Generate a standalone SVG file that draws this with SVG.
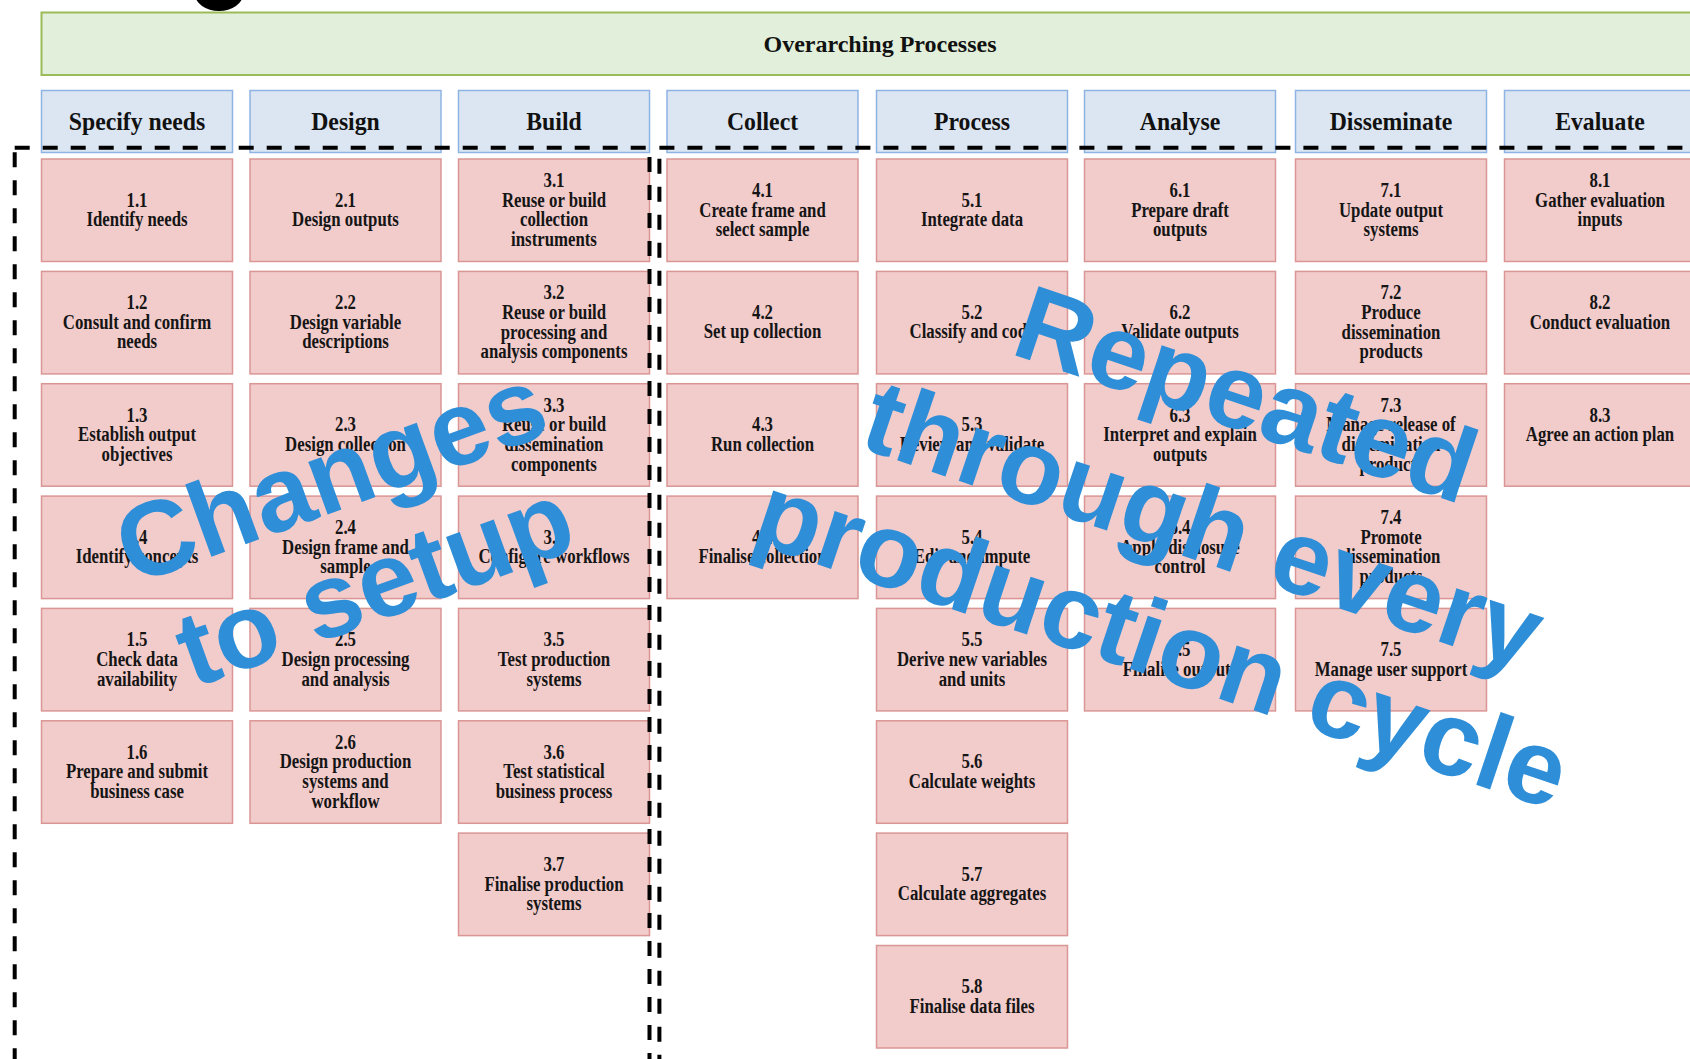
<svg xmlns="http://www.w3.org/2000/svg" width="1690" height="1059" viewBox="0 0 1690 1059">
<style>
  .bar{fill:#e2efda;stroke:#9bbb59;stroke-width:2}
  .hd{fill:#dce6f2;stroke:#8eb4e3;stroke-width:1.5}
  .bx{fill:#f2cbcb;stroke:#d99694;stroke-width:1.5}
  .bar-t{font-family:"Liberation Serif","Times New Roman",serif;font-weight:bold;font-size:24px;fill:#111;text-anchor:middle}
  .ht{font-family:"Liberation Serif","Times New Roman",serif;font-weight:bold;font-size:25px;fill:#111;text-anchor:middle}
  .bt{font-family:"Liberation Serif","Times New Roman",serif;font-weight:bold;font-size:20px;fill:#151515;text-anchor:middle}
  .zone{fill:none;stroke:#000;stroke-width:4;stroke-dasharray:15 13}
  .wm{font-family:"Liberation Sans",Arial,sans-serif;font-weight:bold;font-size:106px;fill:#2e8ed8;text-anchor:middle}
</style>
<rect width="1690" height="1059" fill="#fff"/>

<!-- remnant of a heading above the frame -->
<ellipse cx="219" cy="-6" rx="24" ry="17" fill="#000"/>

<!-- overarching band -->
<g id="overarching">
  <rect class="bar" x="41.5" y="12.5" width="1700" height="62.5"/>
  <text class="bar-t" x="880" y="51.5">Overarching Processes</text>
</g>

<!-- phase headers -->
<g id="h1"><rect class="hd" x="41.5" y="90.5" width="191" height="62"/><text class="ht" transform="matrix(0.95 0 0 1 137 0)" x="0" y="130">Specify needs</text></g>
<g id="h2"><rect class="hd" x="250" y="90.5" width="191" height="62"/><text class="ht" transform="matrix(0.95 0 0 1 345.5 0)" x="0" y="130">Design</text></g>
<g id="h3"><rect class="hd" x="458.5" y="90.5" width="191" height="62"/><text class="ht" transform="matrix(0.95 0 0 1 554 0)" x="0" y="130">Build</text></g>
<g id="h4"><rect class="hd" x="667" y="90.5" width="191" height="62"/><text class="ht" transform="matrix(0.95 0 0 1 762.5 0)" x="0" y="130">Collect</text></g>
<g id="h5"><rect class="hd" x="876.5" y="90.5" width="191" height="62"/><text class="ht" transform="matrix(0.95 0 0 1 972 0)" x="0" y="130">Process</text></g>
<g id="h6"><rect class="hd" x="1084.5" y="90.5" width="191" height="62"/><text class="ht" transform="matrix(0.95 0 0 1 1180 0)" x="0" y="130">Analyse</text></g>
<g id="h7"><rect class="hd" x="1295.5" y="90.5" width="191" height="62"/><text class="ht" transform="matrix(0.95 0 0 1 1391 0)" x="0" y="130">Disseminate</text></g>
<g id="h8"><rect class="hd" x="1504.5" y="90.5" width="191" height="62"/><text class="ht" transform="matrix(0.95 0 0 1 1600 0)" x="0" y="130">Evaluate</text></g>

<!-- 1 Specify needs -->
<g id="n1-1"><rect class="bx" x="41.5" y="159" width="191" height="102.5"/><text class="bt" transform="matrix(0.84 0 0 1 137 0)"><tspan x="0" y="206.8">1.1</tspan><tspan x="0" y="226.2">Identify needs</tspan></text></g>
<g id="n1-2"><rect class="bx" x="41.5" y="271.4" width="191" height="102.5"/><text class="bt" transform="matrix(0.84 0 0 1 137 0)"><tspan x="0" y="309.3">1.2</tspan><tspan x="0" y="328.9">Consult and confirm</tspan><tspan x="0" y="348.5">needs</tspan></text></g>
<g id="n1-3"><rect class="bx" x="41.5" y="383.7" width="191" height="102.5"/><text class="bt" transform="matrix(0.84 0 0 1 137 0)"><tspan x="0" y="421.7">1.3</tspan><tspan x="0" y="441.3">Establish output</tspan><tspan x="0" y="460.9">objectives</tspan></text></g>
<g id="n1-4"><rect class="bx" x="41.5" y="496.1" width="191" height="102.5"/><text class="bt" transform="matrix(0.84 0 0 1 137 0)"><tspan x="0" y="543.8">1.4</tspan><tspan x="0" y="563.2">Identify concepts</tspan></text></g>
<g id="n1-5"><rect class="bx" x="41.5" y="608.4" width="191" height="102.5"/><text class="bt" transform="matrix(0.84 0 0 1 137 0)"><tspan x="0" y="646.4">1.5</tspan><tspan x="0" y="666">Check data</tspan><tspan x="0" y="685.6">availability</tspan></text></g>
<g id="n1-6"><rect class="bx" x="41.5" y="720.8" width="191" height="102.5"/><text class="bt" transform="matrix(0.84 0 0 1 137 0)"><tspan x="0" y="758.7">1.6</tspan><tspan x="0" y="778.3">Prepare and submit</tspan><tspan x="0" y="797.9">business case</tspan></text></g>

<!-- 2 Design -->
<g id="n2-1"><rect class="bx" x="250" y="159" width="191" height="102.5"/><text class="bt" transform="matrix(0.84 0 0 1 345.5 0)"><tspan x="0" y="206.8">2.1</tspan><tspan x="0" y="226.2">Design outputs</tspan></text></g>
<g id="n2-2"><rect class="bx" x="250" y="271.4" width="191" height="102.5"/><text class="bt" transform="matrix(0.84 0 0 1 345.5 0)"><tspan x="0" y="309.3">2.2</tspan><tspan x="0" y="328.9">Design variable</tspan><tspan x="0" y="348.5">descriptions</tspan></text></g>
<g id="n2-3"><rect class="bx" x="250" y="383.7" width="191" height="102.5"/><text class="bt" transform="matrix(0.84 0 0 1 345.5 0)"><tspan x="0" y="431.5">2.3</tspan><tspan x="0" y="450.9">Design collection</tspan></text></g>
<g id="n2-4"><rect class="bx" x="250" y="496.1" width="191" height="102.5"/><text class="bt" transform="matrix(0.84 0 0 1 345.5 0)"><tspan x="0" y="534">2.4</tspan><tspan x="0" y="553.6">Design frame and</tspan><tspan x="0" y="573.2">sample</tspan></text></g>
<g id="n2-5"><rect class="bx" x="250" y="608.4" width="191" height="102.5"/><text class="bt" transform="matrix(0.84 0 0 1 345.5 0)"><tspan x="0" y="646.4">2.5</tspan><tspan x="0" y="666">Design processing</tspan><tspan x="0" y="685.6">and analysis</tspan></text></g>
<g id="n2-6"><rect class="bx" x="250" y="720.8" width="191" height="102.5"/><text class="bt" transform="matrix(0.84 0 0 1 345.5 0)"><tspan x="0" y="748.9">2.6</tspan><tspan x="0" y="768.5">Design production</tspan><tspan x="0" y="788.1">systems and</tspan><tspan x="0" y="807.7">workflow</tspan></text></g>

<!-- 3 Build -->
<g id="n3-1"><rect class="bx" x="458.5" y="159" width="191" height="102.5"/><text class="bt" transform="matrix(0.84 0 0 1 554 0)"><tspan x="0" y="187.2">3.1</tspan><tspan x="0" y="206.8">Reuse or build</tspan><tspan x="0" y="226.4">collection</tspan><tspan x="0" y="246">instruments</tspan></text></g>
<g id="n3-2"><rect class="bx" x="458.5" y="271.4" width="191" height="102.5"/><text class="bt" transform="matrix(0.84 0 0 1 554 0)"><tspan x="0" y="299.5">3.2</tspan><tspan x="0" y="319.1">Reuse or build</tspan><tspan x="0" y="338.7">processing and</tspan><tspan x="0" y="358.3">analysis components</tspan></text></g>
<g id="n3-3"><rect class="bx" x="458.5" y="383.7" width="191" height="102.5"/><text class="bt" transform="matrix(0.84 0 0 1 554 0)"><tspan x="0" y="411.9">3.3</tspan><tspan x="0" y="431.5">Reuse or build</tspan><tspan x="0" y="451.1">dissemination</tspan><tspan x="0" y="470.7">components</tspan></text></g>
<g id="n3-4"><rect class="bx" x="458.5" y="496.1" width="191" height="102.5"/><text class="bt" transform="matrix(0.84 0 0 1 554 0)"><tspan x="0" y="543.8">3.4</tspan><tspan x="0" y="563.2">Configure workflows</tspan></text></g>
<g id="n3-5"><rect class="bx" x="458.5" y="608.4" width="191" height="102.5"/><text class="bt" transform="matrix(0.84 0 0 1 554 0)"><tspan x="0" y="646.4">3.5</tspan><tspan x="0" y="666">Test production</tspan><tspan x="0" y="685.6">systems</tspan></text></g>
<g id="n3-6"><rect class="bx" x="458.5" y="720.8" width="191" height="102.5"/><text class="bt" transform="matrix(0.84 0 0 1 554 0)"><tspan x="0" y="758.7">3.6</tspan><tspan x="0" y="778.3">Test statistical</tspan><tspan x="0" y="797.9">business process</tspan></text></g>
<g id="n3-7"><rect class="bx" x="458.5" y="833.1" width="191" height="102.5"/><text class="bt" transform="matrix(0.84 0 0 1 554 0)"><tspan x="0" y="871.1">3.7</tspan><tspan x="0" y="890.7">Finalise production</tspan><tspan x="0" y="910.3">systems</tspan></text></g>

<!-- 4 Collect -->
<g id="n4-1"><rect class="bx" x="667" y="159" width="191" height="102.5"/><text class="bt" transform="matrix(0.84 0 0 1 762.5 0)"><tspan x="0" y="197">4.1</tspan><tspan x="0" y="216.6">Create frame and</tspan><tspan x="0" y="236.2">select sample</tspan></text></g>
<g id="n4-2"><rect class="bx" x="667" y="271.4" width="191" height="102.5"/><text class="bt" transform="matrix(0.84 0 0 1 762.5 0)"><tspan x="0" y="319.1">4.2</tspan><tspan x="0" y="338.5">Set up collection</tspan></text></g>
<g id="n4-3"><rect class="bx" x="667" y="383.7" width="191" height="102.5"/><text class="bt" transform="matrix(0.84 0 0 1 762.5 0)"><tspan x="0" y="431.5">4.3</tspan><tspan x="0" y="450.9">Run collection</tspan></text></g>
<g id="n4-4"><rect class="bx" x="667" y="496.1" width="191" height="102.5"/><text class="bt" transform="matrix(0.84 0 0 1 762.5 0)"><tspan x="0" y="543.8">4.4</tspan><tspan x="0" y="563.2">Finalise collection</tspan></text></g>

<!-- 5 Process -->
<g id="n5-1"><rect class="bx" x="876.5" y="159" width="191" height="102.5"/><text class="bt" transform="matrix(0.84 0 0 1 972 0)"><tspan x="0" y="206.8">5.1</tspan><tspan x="0" y="226.2">Integrate data</tspan></text></g>
<g id="n5-2"><rect class="bx" x="876.5" y="271.4" width="191" height="102.5"/><text class="bt" transform="matrix(0.84 0 0 1 972 0)"><tspan x="0" y="319.1">5.2</tspan><tspan x="0" y="338.5">Classify and code</tspan></text></g>
<g id="n5-3"><rect class="bx" x="876.5" y="383.7" width="191" height="102.5"/><text class="bt" transform="matrix(0.84 0 0 1 972 0)"><tspan x="0" y="431.5">5.3</tspan><tspan x="0" y="450.9">Review and validate</tspan></text></g>
<g id="n5-4"><rect class="bx" x="876.5" y="496.1" width="191" height="102.5"/><text class="bt" transform="matrix(0.84 0 0 1 972 0)"><tspan x="0" y="543.8">5.4</tspan><tspan x="0" y="563.2">Edit and impute</tspan></text></g>
<g id="n5-5"><rect class="bx" x="876.5" y="608.4" width="191" height="102.5"/><text class="bt" transform="matrix(0.84 0 0 1 972 0)"><tspan x="0" y="646.4">5.5</tspan><tspan x="0" y="666">Derive new variables</tspan><tspan x="0" y="685.6">and units</tspan></text></g>
<g id="n5-6"><rect class="bx" x="876.5" y="720.8" width="191" height="102.5"/><text class="bt" transform="matrix(0.84 0 0 1 972 0)"><tspan x="0" y="768.5">5.6</tspan><tspan x="0" y="787.9">Calculate weights</tspan></text></g>
<g id="n5-7"><rect class="bx" x="876.5" y="833.1" width="191" height="102.5"/><text class="bt" transform="matrix(0.84 0 0 1 972 0)"><tspan x="0" y="880.9">5.7</tspan><tspan x="0" y="900.3">Calculate aggregates</tspan></text></g>
<g id="n5-8"><rect class="bx" x="876.5" y="945.5" width="191" height="102.5"/><text class="bt" transform="matrix(0.84 0 0 1 972 0)"><tspan x="0" y="993.2">5.8</tspan><tspan x="0" y="1012.6">Finalise data files</tspan></text></g>

<!-- 6 Analyse -->
<g id="n6-1"><rect class="bx" x="1084.5" y="159" width="191" height="102.5"/><text class="bt" transform="matrix(0.84 0 0 1 1180 0)"><tspan x="0" y="197">6.1</tspan><tspan x="0" y="216.6">Prepare draft</tspan><tspan x="0" y="236.2">outputs</tspan></text></g>
<g id="n6-2"><rect class="bx" x="1084.5" y="271.4" width="191" height="102.5"/><text class="bt" transform="matrix(0.84 0 0 1 1180 0)"><tspan x="0" y="319.1">6.2</tspan><tspan x="0" y="338.5">Validate outputs</tspan></text></g>
<g id="n6-3"><rect class="bx" x="1084.5" y="383.7" width="191" height="102.5"/><text class="bt" transform="matrix(0.84 0 0 1 1180 0)"><tspan x="0" y="421.7">6.3</tspan><tspan x="0" y="441.3">Interpret and explain</tspan><tspan x="0" y="460.9">outputs</tspan></text></g>
<g id="n6-4"><rect class="bx" x="1084.5" y="496.1" width="191" height="102.5"/><text class="bt" transform="matrix(0.84 0 0 1 1180 0)"><tspan x="0" y="534">6.4</tspan><tspan x="0" y="553.6">Apply disclosure</tspan><tspan x="0" y="573.2">control</tspan></text></g>
<g id="n6-5"><rect class="bx" x="1084.5" y="608.4" width="191" height="102.5"/><text class="bt" transform="matrix(0.84 0 0 1 1180 0)"><tspan x="0" y="656.2">6.5</tspan><tspan x="0" y="675.6">Finalise outputs</tspan></text></g>

<!-- 7 Disseminate -->
<g id="n7-1"><rect class="bx" x="1295.5" y="159" width="191" height="102.5"/><text class="bt" transform="matrix(0.84 0 0 1 1391 0)"><tspan x="0" y="197">7.1</tspan><tspan x="0" y="216.6">Update output</tspan><tspan x="0" y="236.2">systems</tspan></text></g>
<g id="n7-2"><rect class="bx" x="1295.5" y="271.4" width="191" height="102.5"/><text class="bt" transform="matrix(0.84 0 0 1 1391 0)"><tspan x="0" y="299.5">7.2</tspan><tspan x="0" y="319.1">Produce</tspan><tspan x="0" y="338.7">dissemination</tspan><tspan x="0" y="358.3">products</tspan></text></g>
<g id="n7-3"><rect class="bx" x="1295.5" y="383.7" width="191" height="102.5"/><text class="bt" transform="matrix(0.84 0 0 1 1391 0)"><tspan x="0" y="411.9">7.3</tspan><tspan x="0" y="431.5">Manage release of</tspan><tspan x="0" y="451.1">dissemination</tspan><tspan x="0" y="470.7">products</tspan></text></g>
<g id="n7-4"><rect class="bx" x="1295.5" y="496.1" width="191" height="102.5"/><text class="bt" transform="matrix(0.84 0 0 1 1391 0)"><tspan x="0" y="524.2">7.4</tspan><tspan x="0" y="543.8">Promote</tspan><tspan x="0" y="563.4">dissemination</tspan><tspan x="0" y="583">products</tspan></text></g>
<g id="n7-5"><rect class="bx" x="1295.5" y="608.4" width="191" height="102.5"/><text class="bt" transform="matrix(0.84 0 0 1 1391 0)"><tspan x="0" y="656.2">7.5</tspan><tspan x="0" y="675.6">Manage user support</tspan></text></g>

<!-- 8 Evaluate -->
<g id="n8-1"><rect class="bx" x="1504.5" y="159" width="191" height="102.5"/><text class="bt" transform="matrix(0.84 0 0 1 1600 0)"><tspan x="0" y="187.2">8.1</tspan><tspan x="0" y="206.8">Gather evaluation</tspan><tspan x="0" y="226.4">inputs</tspan></text></g>
<g id="n8-2"><rect class="bx" x="1504.5" y="271.4" width="191" height="102.5"/><text class="bt" transform="matrix(0.84 0 0 1 1600 0)"><tspan x="0" y="309.3">8.2</tspan><tspan x="0" y="328.9">Conduct evaluation</tspan></text></g>
<g id="n8-3"><rect class="bx" x="1504.5" y="383.7" width="191" height="102.5"/><text class="bt" transform="matrix(0.84 0 0 1 1600 0)"><tspan x="0" y="421.7">8.3</tspan><tspan x="0" y="441.3">Agree an action plan</tspan></text></g>

<!-- dashed groupings: setup phases and per-cycle phases -->
<g id="groupings">
  <rect class="zone" x="14.7" y="147.7" width="634.8" height="915"/>
  <rect class="zone" x="659.4" y="147.7" width="1100" height="915"/>
</g>

<!-- overlay captions -->
<g id="captions">
  <text class="wm" x="343" y="509" transform="rotate(-20 343 509)">Changes</text>
  <text class="wm" x="387" y="618" transform="rotate(-20 387 618)">to setup</text>
  <text class="wm" x="1235" y="429" transform="rotate(18.5 1235 429)">Repeated</text>
  <text class="wm" x="1192" y="559" transform="rotate(18.5 1192 559)">through every</text>
  <text class="wm" x="1151" y="676" transform="rotate(18.5 1151 676)">production cycle</text>
</g>
</svg>
